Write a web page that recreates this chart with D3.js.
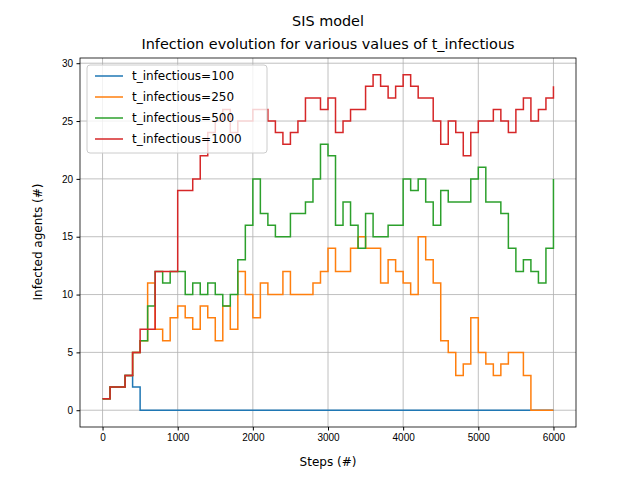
<!DOCTYPE html>
<html><head><meta charset="utf-8">
<script src="https://cdn.jsdelivr.net/npm/d3@7"></script>
<style>body{margin:0;background:#fff}svg{font-family:"DejaVu Sans",sans-serif}</style>
</head><body><svg id="c" width="640" height="480"></svg>
<script>
var steps = d3.range(0, 6001, 100);
var names = ["t_infectious=100", "t_infectious=250", "t_infectious=500", "t_infectious=1000"];
var colors = ["#1f77b4", "#ff7f0e", "#2ca02c", "#d62728"];
var s100 = [1,2,2,3,2,0].concat(d3.range(55).map(function(){return 0;}));
var s250 = [1,2,2,3,5,6,11,7,6,8,9,8,7,9,8,6,9,7,12,10,8,11,10,10,12,10,10,10,11,12,14,12,12,14,15,14,14,11,13,12,11,10,15,13,11,6,5,3,4,8,5,4,3,4,5,5,3,0,0,0,0];
var s500 = [1,2,2,3,5,6,9,12,11,12,12,10,11,10,11,10,9,10,13,16,20,17,16,15,15,17,17,18,20,23,22,16,18,16,14,17,15,15,16,16,20,19,20,18,16,19,18,18,18,20,21,18,18,17,14,12,13,12,11,14,20];
var s1000 = [1,2,2,3,5,7,7,12,12,12,19,19,20,22,24,25,26,24,25,25,26,26,25,24,23,24,25,27,27,26,27,24,25,26,26,28,29,28,27,28,29,28,27,27,25,23,25,24,22,24,25,25,26,25,24,26,27,25,26,27,28];
var series = [s100, s250, s500, s1000];
var xTicks = [0,1000,2000,3000,4000,5000,6000];
var yTicks = [0,5,10,15,20,25,30];

var svg = d3.select("#c");
var L = 80, R = 576, T = 58, B = 427;
var x = d3.scaleLinear().domain([-300, 6300]).range([L, R]);
var y = d3.scaleLinear().domain([-1.45, 30.45]).range([B, T]);

var grid = svg.append("g").attr("stroke", "#b0b0b0").attr("stroke-width", 0.8);
xTicks.forEach(function(t){ grid.append("line").attr("x1", x(t)).attr("x2", x(t)).attr("y1", T).attr("y2", B); });
yTicks.forEach(function(t){ grid.append("line").attr("y1", y(t)).attr("y2", y(t)).attr("x1", L).attr("x2", R); });

var line = d3.line().curve(d3.curveStepAfter).x(function(d, i){ return x(steps[i]); }).y(function(d){ return y(d); });
series.forEach(function(s, k){
  svg.append("path").datum(s).attr("d", line).attr("fill", "none").attr("stroke", colors[k]).attr("stroke-width", 1.5);
});

svg.append("g").attr("transform", "translate(0," + B + ")").call(d3.axisBottom(x).tickValues(xTicks).tickFormat(d3.format("d")).tickSize(3.5).tickPadding(3.5))
  .call(function(g){ g.select(".domain").remove(); g.selectAll("text").attr("font-size", 10).attr("fill", "#000"); });
svg.append("g").attr("transform", "translate(" + L + ",0)").call(d3.axisLeft(y).tickValues(yTicks).tickFormat(d3.format("d")).tickSize(3.5).tickPadding(3.5))
  .call(function(g){ g.select(".domain").remove(); g.selectAll("text").attr("font-size", 10).attr("fill", "#000"); });
svg.append("rect").attr("x", L).attr("y", T).attr("width", R - L).attr("height", B - T).attr("fill", "none").attr("stroke", "#000").attr("stroke-width", 0.8);

svg.append("text").attr("x", 328).attr("y", 466).attr("text-anchor", "middle").attr("font-size", 12).text("Steps (#)");
svg.append("text").attr("transform", "translate(42,242)rotate(-90)").attr("text-anchor", "middle").attr("font-size", 12).text("Infected agents (#)");
svg.append("text").attr("x", 328).attr("y", 26).attr("text-anchor", "middle").attr("font-size", 14.4).text("SIS model");
svg.append("text").attr("x", 328).attr("y", 49).attr("text-anchor", "middle").attr("font-size", 14.4).text("Infection evolution for various values of t_infectious");

var lg = svg.append("g").attr("transform", "translate(87,65)");
lg.append("rect").attr("width", 180).attr("height", 88).attr("rx", 3).attr("fill", "#fff").attr("fill-opacity", 0.8).attr("stroke", "#ccc");
names.forEach(function(n, i){
  var yy = 11 + i * 21;
  lg.append("line").attr("x1", 8).attr("x2", 36).attr("y1", yy).attr("y2", yy).attr("stroke", colors[i]).attr("stroke-width", 1.5);
  lg.append("text").attr("x", 45).attr("y", yy + 4).attr("font-size", 12).text(n);
});
</script></body></html>
